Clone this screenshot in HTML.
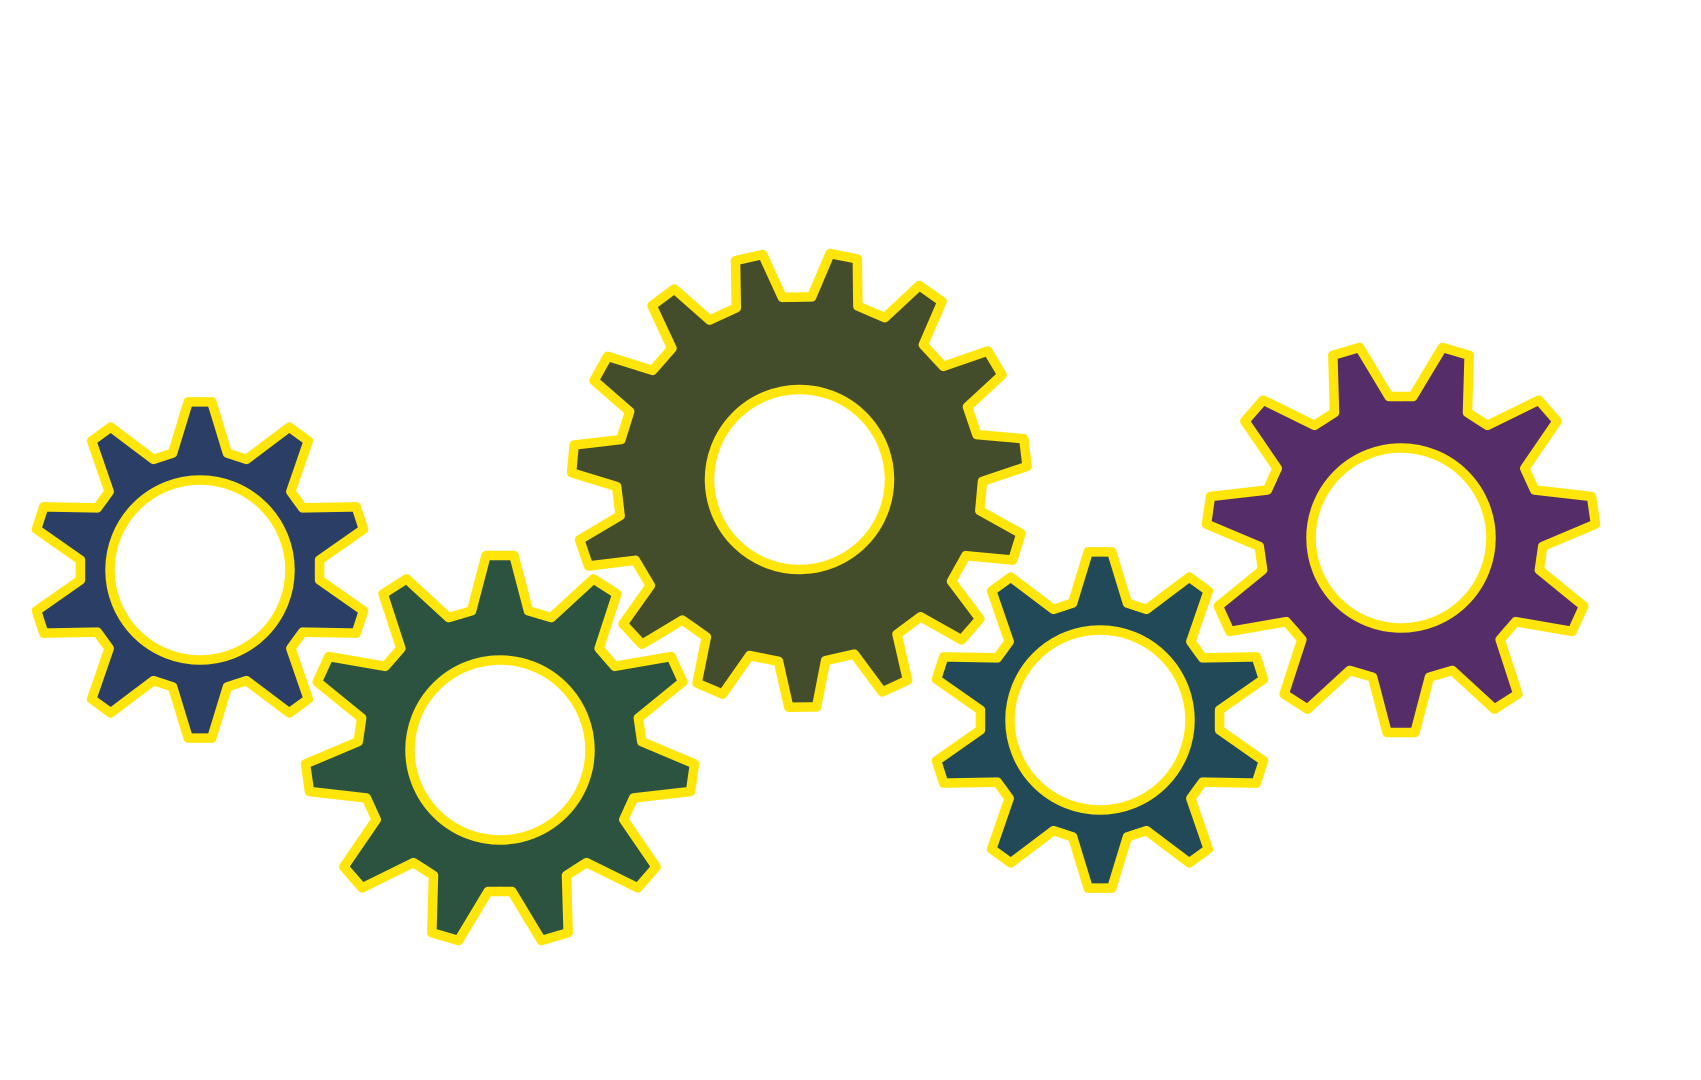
<!DOCTYPE html>
<html>
<head>
<meta charset="utf-8">
<style>
  html, body { margin: 0; padding: 0; background: #ffffff; }
  body { width: 1701px; height: 1080px; overflow: hidden; }
  svg { display: block; }
</style>
</head>
<body>
<svg xmlns="http://www.w3.org/2000/svg" width="1701" height="1080" viewBox="0 0 1701 1080">
  <defs>
    <!-- Type A: 10 teeth -->
    <polygon id="fA" points="0,0 -36.95,-113.73 -27.41,-116.83 -11.75,-168.09 11.75,-168.09 27.41,-116.83 36.95,-113.73"/>
    <polyline id="sA" points="-36.95,-113.73 -27.41,-116.83 -11.75,-168.09 11.75,-168.09 27.41,-116.83 36.95,-113.73"/>
    <!-- Type B: 11 teeth -->
    <polygon id="fB" points="0,0 -39.86,-135.77 -28.46,-139.12 -13.94,-194.5 13.94,-194.5 28.46,-139.12 39.86,-135.77"/>
    <polyline id="sB" points="-39.86,-135.77 -28.46,-139.12 -13.94,-194.5 13.94,-194.5 28.46,-139.12 39.86,-135.77"/>
    <!-- Type C: 15 teeth -->
    <polygon id="fC" points="0,0 -37.93,-178.42 -23.57,-181.47 -13.92,-227.57 13.92,-227.57 23.57,-181.47 37.93,-178.42"/>
    <polyline id="sC" points="-37.93,-178.42 -23.57,-181.47 -13.92,-227.57 13.92,-227.57 23.57,-181.47 37.93,-178.42"/>
  </defs>

  <!-- Blue gear -->
  <g transform="translate(200,570)">
    <g fill="#2B3F66">
      <circle r="119"/>
      <use href="#fA" transform="rotate(0)"/><use href="#fA" transform="rotate(36)"/>
      <use href="#fA" transform="rotate(72)"/><use href="#fA" transform="rotate(108)"/>
      <use href="#fA" transform="rotate(144)"/><use href="#fA" transform="rotate(180)"/>
      <use href="#fA" transform="rotate(216)"/><use href="#fA" transform="rotate(252)"/>
      <use href="#fA" transform="rotate(288)"/><use href="#fA" transform="rotate(324)"/>
    </g>
    <g fill="none" stroke="#FFE50A" stroke-width="9.5" stroke-linejoin="round" stroke-linecap="round">
      <use href="#sA" transform="rotate(0)"/><use href="#sA" transform="rotate(36)"/>
      <use href="#sA" transform="rotate(72)"/><use href="#sA" transform="rotate(108)"/>
      <use href="#sA" transform="rotate(144)"/><use href="#sA" transform="rotate(180)"/>
      <use href="#sA" transform="rotate(216)"/><use href="#sA" transform="rotate(252)"/>
      <use href="#sA" transform="rotate(288)"/><use href="#sA" transform="rotate(324)"/>
    </g>
    <circle r="90" fill="#ffffff" stroke="#FFE50A" stroke-width="9.5"/>
  </g>

  <!-- Teal gear -->
  <g transform="translate(1100,720)">
    <g fill="#224957">
      <circle r="119"/>
      <use href="#fA" transform="rotate(0)"/><use href="#fA" transform="rotate(36)"/>
      <use href="#fA" transform="rotate(72)"/><use href="#fA" transform="rotate(108)"/>
      <use href="#fA" transform="rotate(144)"/><use href="#fA" transform="rotate(180)"/>
      <use href="#fA" transform="rotate(216)"/><use href="#fA" transform="rotate(252)"/>
      <use href="#fA" transform="rotate(288)"/><use href="#fA" transform="rotate(324)"/>
    </g>
    <g fill="none" stroke="#FFE50A" stroke-width="9.5" stroke-linejoin="round" stroke-linecap="round">
      <use href="#sA" transform="rotate(0)"/><use href="#sA" transform="rotate(36)"/>
      <use href="#sA" transform="rotate(72)"/><use href="#sA" transform="rotate(108)"/>
      <use href="#sA" transform="rotate(144)"/><use href="#sA" transform="rotate(180)"/>
      <use href="#sA" transform="rotate(216)"/><use href="#sA" transform="rotate(252)"/>
      <use href="#sA" transform="rotate(288)"/><use href="#sA" transform="rotate(324)"/>
    </g>
    <circle r="90" fill="#ffffff" stroke="#FFE50A" stroke-width="9.5"/>
  </g>

  <!-- Green gear -->
  <g transform="translate(500,750)">
    <g fill="#2C5340">
      <circle r="141"/>
      <use href="#fB" transform="rotate(0)"/><use href="#fB" transform="rotate(32.727)"/>
      <use href="#fB" transform="rotate(65.455)"/><use href="#fB" transform="rotate(98.182)"/>
      <use href="#fB" transform="rotate(130.909)"/><use href="#fB" transform="rotate(163.636)"/>
      <use href="#fB" transform="rotate(196.364)"/><use href="#fB" transform="rotate(229.091)"/>
      <use href="#fB" transform="rotate(261.818)"/><use href="#fB" transform="rotate(294.545)"/>
      <use href="#fB" transform="rotate(327.273)"/>
    </g>
    <g fill="none" stroke="#FFE50A" stroke-width="9.5" stroke-linejoin="round" stroke-linecap="round">
      <use href="#sB" transform="rotate(0)"/><use href="#sB" transform="rotate(32.727)"/>
      <use href="#sB" transform="rotate(65.455)"/><use href="#sB" transform="rotate(98.182)"/>
      <use href="#sB" transform="rotate(130.909)"/><use href="#sB" transform="rotate(163.636)"/>
      <use href="#sB" transform="rotate(196.364)"/><use href="#sB" transform="rotate(229.091)"/>
      <use href="#sB" transform="rotate(261.818)"/><use href="#sB" transform="rotate(294.545)"/>
      <use href="#sB" transform="rotate(327.273)"/>
    </g>
    <circle r="90" fill="#ffffff" stroke="#FFE50A" stroke-width="9.5"/>
  </g>

  <!-- Purple gear (11 teeth, tooth pointing down) -->
  <g transform="translate(1401,538) rotate(180)">
    <g fill="#552E69">
      <circle r="141"/>
      <use href="#fB" transform="rotate(0)"/><use href="#fB" transform="rotate(32.727)"/>
      <use href="#fB" transform="rotate(65.455)"/><use href="#fB" transform="rotate(98.182)"/>
      <use href="#fB" transform="rotate(130.909)"/><use href="#fB" transform="rotate(163.636)"/>
      <use href="#fB" transform="rotate(196.364)"/><use href="#fB" transform="rotate(229.091)"/>
      <use href="#fB" transform="rotate(261.818)"/><use href="#fB" transform="rotate(294.545)"/>
      <use href="#fB" transform="rotate(327.273)"/>
    </g>
    <g fill="none" stroke="#FFE50A" stroke-width="9.5" stroke-linejoin="round" stroke-linecap="round">
      <use href="#sB" transform="rotate(0)"/><use href="#sB" transform="rotate(32.727)"/>
      <use href="#sB" transform="rotate(65.455)"/><use href="#sB" transform="rotate(98.182)"/>
      <use href="#sB" transform="rotate(130.909)"/><use href="#sB" transform="rotate(163.636)"/>
      <use href="#sB" transform="rotate(196.364)"/><use href="#sB" transform="rotate(229.091)"/>
      <use href="#sB" transform="rotate(261.818)"/><use href="#sB" transform="rotate(294.545)"/>
      <use href="#sB" transform="rotate(327.273)"/>
    </g>
    <circle r="90" fill="#ffffff" stroke="#FFE50A" stroke-width="9.5"/>
  </g>

  <!-- Olive gear (15 teeth, tooth pointing down) -->
  <g transform="translate(799.5,479.5) rotate(-0.8)">
    <g transform="rotate(12)">
      <g fill="#434D2B">
        <circle r="182"/>
        <use href="#fC" transform="rotate(0)"/><use href="#fC" transform="rotate(24)"/>
        <use href="#fC" transform="rotate(48)"/><use href="#fC" transform="rotate(72)"/>
        <use href="#fC" transform="rotate(96)"/><use href="#fC" transform="rotate(120)"/>
        <use href="#fC" transform="rotate(144)"/><use href="#fC" transform="rotate(168)"/>
        <use href="#fC" transform="rotate(192)"/><use href="#fC" transform="rotate(216)"/>
        <use href="#fC" transform="rotate(240)"/><use href="#fC" transform="rotate(264)"/>
        <use href="#fC" transform="rotate(288)"/><use href="#fC" transform="rotate(312)"/>
        <use href="#fC" transform="rotate(336)"/>
      </g>
      <g fill="none" stroke="#FFE50A" stroke-width="9.5" stroke-linejoin="round" stroke-linecap="round">
        <use href="#sC" transform="rotate(0)"/><use href="#sC" transform="rotate(24)"/>
        <use href="#sC" transform="rotate(48)"/><use href="#sC" transform="rotate(72)"/>
        <use href="#sC" transform="rotate(96)"/><use href="#sC" transform="rotate(120)"/>
        <use href="#sC" transform="rotate(144)"/><use href="#sC" transform="rotate(168)"/>
        <use href="#sC" transform="rotate(192)"/><use href="#sC" transform="rotate(216)"/>
        <use href="#sC" transform="rotate(240)"/><use href="#sC" transform="rotate(264)"/>
        <use href="#sC" transform="rotate(288)"/><use href="#sC" transform="rotate(312)"/>
        <use href="#sC" transform="rotate(336)"/>
      </g>
    </g>
    <circle r="90" fill="#ffffff" stroke="#FFE50A" stroke-width="9.5"/>
  </g>
</svg>
</body>
</html>
